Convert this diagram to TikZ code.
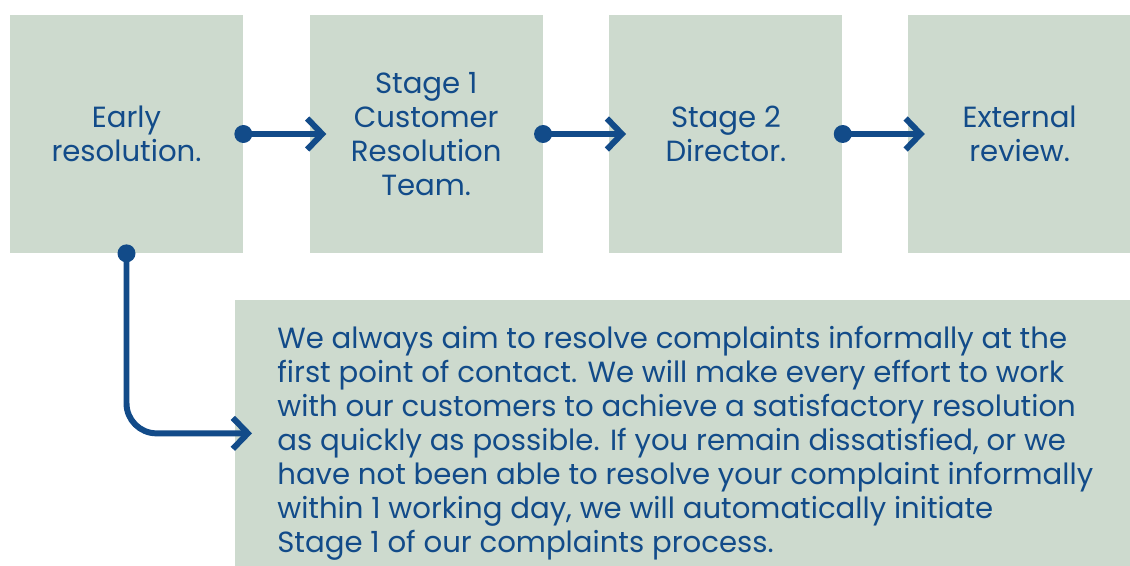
\documentclass[tikz,border=0pt]{standalone}
\usepackage{fontspec}
\setmainfont{Poppins}
\usetikzlibrary{arrows.meta,positioning}
\definecolor{boxgreen}{HTML}{CDDACE}
\definecolor{navy}{HTML}{124B89}
\tikzset{
  stagebox/.style={fill=boxgreen, minimum width=4.66cm, minimum height=4.76cm,
    inner sep=0pt, align=center, text=navy, font=\fontsize{16.6}{19.3}\selectfont},
  link/.style={draw=navy, line width=3.4pt, rounded corners=0.6cm,
    -{Straight Barb[length=0.3cm,width=0.62cm]}, shorten >=-0.34cm},
  dot/.style={fill=navy}
}
\begin{document}
\begin{tikzpicture}
  \useasboundingbox (0,0) rectangle (22.6,-11.32);
  \path (2.53,-2.68) node[stagebox] (early) {Early\\resolution.};
  \path node[stagebox,right=1.32cm of early] (stageone) {Stage 1\\Customer\\Resolution\\Team.};
  \path node[stagebox,right=1.32cm of stageone] (stagetwo) {Stage 2\\Director.};
  \path node[stagebox,minimum width=4.46cm,right=1.3cm of stagetwo] (external) {External\\review.};
  \path (4.7,-6.0) node[stagebox,anchor=north west,minimum width=17.9cm,minimum height=5.32cm] (info) {};
  \path node[text=navy,font=\fontsize{16.6}{19.3}\selectfont,align=left,inner sep=0pt,
    below right=0.52cm and 0.84cm of info.north west] (infotext) {We always aim to resolve complaints informally at the\\
    first point of contact. We will make every effort to work\\
    with our customers to achieve a satisfactory resolution\\
    as quickly as possible. If you remain dissatisfied, or we\\
    have not been able to resolve your complaint informally\\
    within 1 working day, we will automatically initiate\\
    Stage 1 of our complaints process.};

  % connectors
  \draw[link] (early.east) -- (stageone.west);
  \draw[link] (stageone.east) -- (stagetwo.west);
  \draw[link] (stagetwo.east) -- (external.west);
  \draw[link] (early.south) |- (info.west);
  \foreach \n in {early.east,stageone.east,stagetwo.east,early.south}
    \fill[dot] (\n) circle (0.18cm);
\end{tikzpicture}
\end{document}
